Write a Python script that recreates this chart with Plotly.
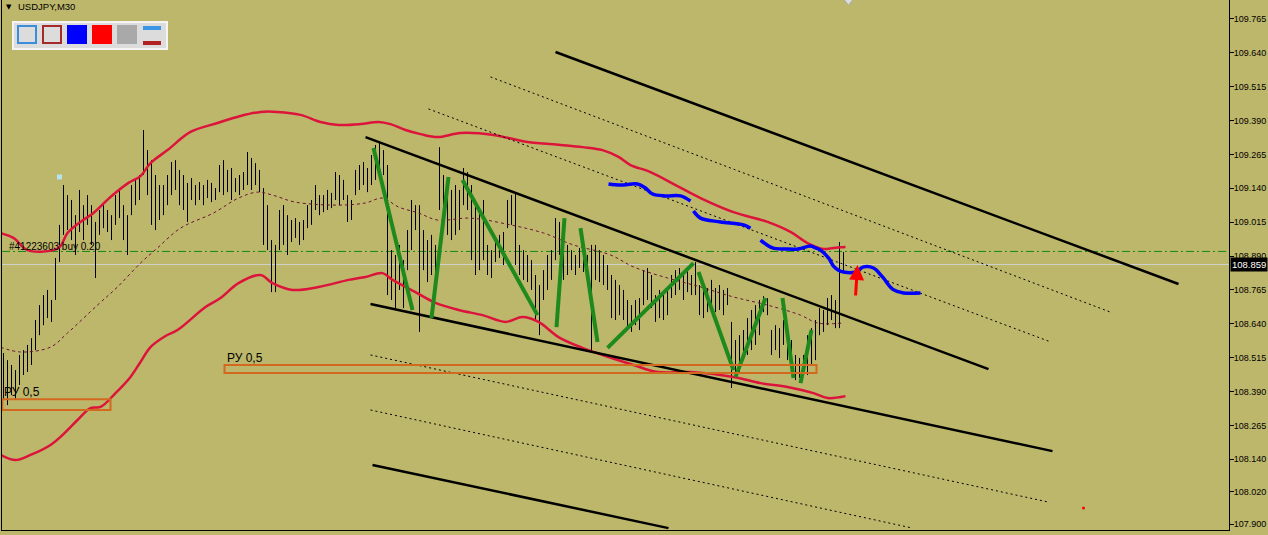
import plotly.graph_objects as go

# ---------------- data (prices) ----------------
bar_high = [108.532,108.506,108.488,108.469,108.525,108.543,108.562,108.587,108.654,108.709,
            108.746,108.765,108.728,108.883,109.005,109.152,109.115,109.097,109.041,109.134,
            109.078,109.115,109.078,109.016,109.060,109.078,109.060,109.041,109.115,109.134,
            109.078,109.041,109.152,109.178,109.189,109.355,109.281,109.244,109.189,109.152,
            109.152,109.189,109.237,109.244,109.208,109.189,109.160,109.178,109.152,109.163,
            109.152,109.171,109.160,109.141,109.226,109.244,109.208,109.215,109.178,109.189,
            109.200,109.274,109.252,109.233,109.208,109.141,109.078,108.949,108.931,109.060,
            109.078,109.041,109.023,109.030,109.016,109.023,109.078,109.097,109.152,109.115,
            109.115,109.134,109.123,109.200,109.189,109.171,109.115,109.097,109.208,109.226,
            109.237,109.215,109.263,109.300,109.311,109.281,109.226,108.912,108.894,108.931,
            108.875,108.986,109.097,109.078,109.078,108.986,108.949,108.968,108.931,109.292,
            109.189,109.171,109.134,109.152,109.134,109.215,109.200,109.152,109.097,109.060,
            109.097,108.931,108.912,108.949,108.968,108.979,109.097,109.115,109.123,108.931,
            108.912,108.894,108.875,108.820,108.783,108.838,108.894,108.912,109.030,109.016,
            108.949,108.931,108.912,108.894,108.920,108.905,108.894,108.931,108.931,108.912,
            108.894,108.857,108.820,108.802,108.783,108.765,108.728,108.709,108.728,108.735,
            108.838,108.846,108.820,108.746,108.765,108.757,108.772,108.820,108.838,108.846,
            108.831,108.846,108.820,108.868,108.783,108.765,108.772,108.802,108.772,108.783,
            108.765,108.772,108.647,108.580,108.598,108.617,108.661,108.691,108.709,108.728,
            108.742,108.735,108.617,108.635,108.624,108.654,108.617,108.580,108.525,108.514,
            108.525,108.598,108.624,108.654,108.698,108.691,108.735,108.746,108.728,108.942,
            108.905]
bar_low = [108.359,108.340,108.377,108.359,108.414,108.451,108.462,108.488,108.543,108.598,
           108.635,108.661,108.647,108.728,108.868,108.968,108.986,108.949,108.894,108.979,
           108.949,109.005,108.931,108.809,108.968,108.993,108.979,108.949,109.005,109.030,
           108.949,108.894,109.041,109.078,109.097,109.189,109.115,109.005,108.986,109.023,
           109.041,109.078,109.115,109.134,109.078,109.060,109.016,109.097,109.078,109.097,
           109.078,109.104,109.089,109.097,109.126,109.115,109.126,109.097,109.126,109.115,
           109.134,109.152,109.134,109.152,109.126,108.931,108.912,108.757,108.757,108.912,
           108.931,108.894,108.942,108.957,108.931,108.949,108.993,109.005,109.060,109.041,
           109.052,109.060,109.067,109.097,109.078,109.097,109.016,109.023,109.115,109.134,
           109.152,109.126,109.152,109.171,109.208,109.189,108.746,108.728,108.691,108.765,
           108.698,108.838,108.912,108.986,108.610,108.838,108.794,108.820,108.783,109.060,
           108.986,108.968,108.949,108.968,108.986,109.078,109.060,108.875,108.820,108.838,
           108.875,108.820,108.809,108.868,108.883,108.857,108.993,109.005,108.857,108.820,
           108.802,108.794,108.765,108.654,108.598,108.728,108.765,108.802,108.875,108.894,
           108.802,108.820,108.838,108.820,108.846,108.831,108.838,108.536,108.802,108.794,
           108.783,108.765,108.661,108.654,108.672,108.654,108.617,108.610,108.635,108.617,
           108.709,108.728,108.698,108.647,108.661,108.654,108.672,108.735,108.746,108.765,
           108.728,108.757,108.746,108.746,108.672,108.661,108.683,108.691,108.683,108.691,
           108.672,108.709,108.403,108.451,108.462,108.506,108.525,108.543,108.562,108.598,
           108.683,108.672,108.525,108.543,108.514,108.562,108.506,108.488,108.432,108.440,
           108.451,108.451,108.488,108.506,108.598,108.610,108.635,108.654,108.624,108.624,
           108.831]

bb_upper_x = [-0.75,2.5,6,12.5,14.25,16,19.25,22.5,26.75,31.25,34.25,36.75,41,46.75,53.5,59.25,
              64.25,68.5,74.25,79.25,83.75,89.25,93.75,96.75,100.5,104.25,108.5,114.25,122.5,
              131,139.25,144.75,149.75,153.75,156.75,161.75,168,174.25,182.5,191,196.75,201,
              205,207.5,210.5]
bb_upper_y = [108.975,108.957,108.912,108.912,108.927,108.975,109.016,109.049,109.108,109.160,
              109.185,109.233,109.281,109.348,109.381,109.407,109.422,109.422,109.411,109.385,
              109.374,109.377,109.385,109.377,109.355,109.340,109.329,109.344,109.337,109.311,
              109.300,109.292,109.281,109.256,109.226,109.200,109.152,109.104,109.052,109.016,
              108.979,108.938,108.916,108.920,108.923]
bb_lower_x = [-0.75,3,6.75,11.75,15.5,18.5,21.75,24.25,28,31.75,34.25,36.75,40.5,43.5,50.5,
              54.25,58.75,64.25,67.25,72.25,78.75,86.25,90.5,94.75,97.25,103,108,113.75,119.75,
              125.5,129.75,133.75,138.75,144.75,149.75,157.5,163.5,171.75,182.5,189.25,196,
              202.5,206,210.5]
bb_lower_y = [108.156,108.137,108.156,108.193,108.240,108.285,108.329,108.333,108.384,108.444,
              108.499,108.554,108.595,108.617,108.702,108.735,108.790,108.820,108.790,108.765,
              108.776,108.802,108.813,108.827,108.802,108.757,108.717,108.691,108.672,108.647,
              108.665,108.647,108.591,108.551,108.525,108.488,108.462,108.462,108.444,108.421,
              108.407,108.384,108.366,108.373]
bb_mid_x = [-0.75,4.25,11.75,16,23.5,28.5,34.25,38.5,44.25,52.5,58.75,63.5,67.25,73,83.75,90.5,
            94.75,98.75,103.75,108.5,116.75,126.75,135,142.5,151.75,157.5,166,174.25,182.5,191,
            199.25,203.5,210]
bb_mid_y = [108.554,108.536,108.554,108.606,108.709,108.776,108.864,108.920,108.993,109.049,
            109.104,109.126,109.115,109.089,109.078,109.086,109.104,109.071,109.049,109.023,
            109.030,109.005,108.975,108.931,108.894,108.850,108.809,108.776,108.739,108.709,
            108.672,108.643,108.643]

# channel trend lines (solid) and dotted parallels: start / end (bar index, price)
trend_x0 = [90.5, 91.75, 138, 92.25]
trend_y0 = [109.329, 108.713, 109.643, 108.119]
trend_x1 = [246.25, 262.25, 293.75, 166.25]
trend_y1 = [108.473, 108.170, 108.787, 107.886]
dot_x0 = [121.75, 106.25, 91.75, 91.75]
dot_y0 = [109.551, 109.433, 108.525, 108.322]
dot_x1 = [276.75, 261.25, 261.25, 227.25]
dot_y1 = [108.683, 108.576, 107.982, 107.886]

# green hand-drawn swing lines
green_x0 = [92.5, 107, 114.75, 138.25, 144.25, 151, 173.75, 183, 194.75, 199.25]
green_y0 = [109.289, 108.661, 109.171, 108.628, 108.993, 108.551, 108.831, 108.444, 108.735, 108.421]
green_x1 = [102.25, 111.25, 133.5, 140.25, 148.5, 172.5, 182.5, 190.5, 197.5, 202]
green_y1 = [108.691, 109.182, 108.672, 109.030, 108.573, 108.864, 108.469, 108.735, 108.440, 108.617]

# blue line (three pieces)
blue1_x = [151.25, 154.25, 158.5, 160.5, 162.25, 165.5, 169.25, 171.75]
blue1_y = [109.156, 109.152, 109.156, 109.141, 109.119, 109.112, 109.112, 109.093]
blue2_x = [172.5, 174.25, 179.25, 185, 186.75]
blue2_y = [109.056, 109.030, 109.016, 109.005, 108.993]
blue3_x = [189.25, 192.25, 195.5, 198.75, 201.75, 203, 204.25, 206.25, 207.5, 208.75, 210,
           213, 215, 217.5, 219.75, 222.25, 225, 229.25]
blue3_y = [108.949, 108.920, 108.916, 108.916, 108.927, 108.920, 108.912, 108.883, 108.853,
           108.838, 108.831, 108.831, 108.850, 108.846, 108.813, 108.768, 108.754, 108.754]

# orange zones "РУ 0,5"
zone_x0 = [-0.3, 55.25]
zone_x1 = [26.75, 203.25]
zone_y0 = [108.322, 108.458]
zone_y1 = [108.362, 108.488]
zone_label = ["РУ 0,5", "РУ 0,5"]

order_price = 108.907
order_label = "#41223603 buy 0.20"
bid_price = 108.859
arrow_tail = (213.0, 108.739)
arrow_head = (213.5, 108.857)

tick_vals = [109.765, 109.640, 109.515, 109.390, 109.265, 109.140, 109.015, 108.890,
             108.765, 108.640, 108.515, 108.390, 108.265, 108.140, 108.020, 107.900]

# ---------------- figure ----------------
BG = "#BDB76B"
FONT = "Liberation Sans"
W, H = 1268, 535
ML, MR, MT, MB = 2, 39, 0, 5
PW, PH = W - ML - MR, H - MT - MB


def pxx(px):
    return (px - ML) / PW


def pxy(py):
    return 1 - (py - MT) / PH


fig = go.Figure()

# bars (high-low)
bx, by = [], []
for i, (h, l) in enumerate(zip(bar_high, bar_low)):
    bx += [i, i, None]
    by += [l, h, None]
fig.add_trace(go.Scatter(x=bx, y=by, mode="lines", line=dict(color="black", width=1),
                         hoverinfo="skip"))

# Bollinger
fig.add_trace(go.Scatter(x=bb_mid_x, y=bb_mid_y, mode="lines",
                         line=dict(color="#6a1238", width=1, dash="3px,3px", shape="spline"),
                         hoverinfo="skip"))
for xs, ys in [(bb_upper_x, bb_upper_y), (bb_lower_x, bb_lower_y)]:
    fig.add_trace(go.Scatter(x=xs, y=ys, mode="lines",
                             line=dict(color="#DC143C", width=2.5, shape="spline"),
                             hoverinfo="skip"))

# orange zones
for x0, x1, y0, y1, lab in zip(zone_x0, zone_x1, zone_y0, zone_y1, zone_label):
    fig.add_shape(type="rect", x0=x0, x1=x1, y0=y0, y1=y1, xref="x", yref="y",
                  line=dict(color="#D2691E", width=2), fillcolor="rgba(0,0,0,0)")
    fig.add_annotation(x=x0, y=y1, xref="x", yref="y", text=lab, showarrow=False,
                       xanchor="left", yanchor="bottom", yshift=-2,
                       font=dict(family=FONT, size=12, color="black"))

# dotted lines
dx, dy = [], []
for a, b, c, d in zip(dot_x0, dot_y0, dot_x1, dot_y1):
    dx += [a, c, None]
    dy += [b, d, None]
fig.add_trace(go.Scatter(x=dx, y=dy, mode="lines",
                         line=dict(color="black", width=1, dash="2px,3px"), hoverinfo="skip"))

# trend lines
tx, ty = [], []
for a, b, c, d in zip(trend_x0, trend_y0, trend_x1, trend_y1):
    tx += [a, c, None]
    ty += [b, d, None]
fig.add_trace(go.Scatter(x=tx, y=ty, mode="lines", line=dict(color="black", width=2.5),
                         hoverinfo="skip"))

# green swings
gx, gy = [], []
for a, b, c, d in zip(green_x0, green_y0, green_x1, green_y1):
    gx += [a, c, None]
    gy += [b, d, None]
fig.add_trace(go.Scatter(x=gx, y=gy, mode="lines", line=dict(color="#1E8A1E", width=4),
                         hoverinfo="skip"))

# blue line
for xs, ys in [(blue1_x, blue1_y), (blue2_x, blue2_y), (blue3_x, blue3_y)]:
    fig.add_trace(go.Scatter(x=xs, y=ys, mode="lines",
                             line=dict(color="#0000FF", width=3.5, shape="spline"),
                             hoverinfo="skip"))

# small markers
fig.add_trace(go.Scatter(x=[14], y=[109.182], mode="markers",
                         marker=dict(symbol="square", size=5, color="#B8E2F2"), hoverinfo="skip"))
fig.add_trace(go.Scatter(x=[270], y=[107.960], mode="markers",
                         marker=dict(size=3, color="#FF0000"), hoverinfo="skip"))
fig.add_trace(go.Scatter(x=[211.25], y=[109.830], mode="markers",
                         marker=dict(symbol="triangle-down", size=8, color="#DCDCDC",
                                     line=dict(color="#AAAAAA", width=1)), hoverinfo="skip"))

# red arrow
fig.add_annotation(x=arrow_head[0], y=arrow_head[1], ax=arrow_tail[0], ay=arrow_tail[1],
                   xref="x", yref="y", axref="x", ayref="y", text="", showarrow=True,
                   arrowhead=2, arrowsize=1, arrowwidth=3, arrowcolor="#FF0000")

# horizontal levels
fig.add_shape(type="line", xref="paper", yref="y", x0=0, x1=1, y0=bid_price, y1=bid_price,
              line=dict(color="#D0D0D0", width=1), layer="below")
fig.add_shape(type="line", xref="paper", yref="y", x0=0, x1=1, y0=order_price, y1=order_price,
              line=dict(color="#128A12", width=1, dash="8px,3px,2px,3px"), layer="below")
fig.add_annotation(x=pxx(7), y=order_price, xref="paper", yref="y", text=order_label,
                   showarrow=False, xanchor="left", yanchor="bottom", yshift=-3,
                   font=dict(family=FONT, size=10, color="black"))
fig.add_annotation(x=1, y=bid_price, xref="paper", yref="y", text=f"{bid_price:.3f}",
                   showarrow=False, xanchor="left", yanchor="middle", xshift=1,
                   bgcolor="black", borderpad=1,
                   font=dict(family=FONT, size=9.5, color="white"))

# title
fig.add_annotation(x=pxx(4), y=pxy(7), xref="paper", yref="paper", text="▼",
                   showarrow=False, xanchor="left", yanchor="middle",
                   font=dict(family="DejaVu Sans", size=7, color="black"))
fig.add_annotation(x=pxx(16), y=pxy(7), xref="paper", yref="paper", text="USDJPY,M30",
                   showarrow=False, xanchor="left", yanchor="middle",
                   font=dict(family=FONT, size=9.5, color="black"))

# toolbar-like colour panel
fig.add_shape(type="rect", xref="paper", yref="paper", x0=pxx(13), x1=pxx(167),
              y0=pxy(49), y1=pxy(22), fillcolor="#DCDCDC", line=dict(color="#F4F4F4", width=2))
panel = [(18, 36, "#DCDCDC", "#3C8CDC"), (43, 61, "#DCDCDC", "#A52A2A"),
         (68, 86, "#0000FF", "#0000FF"), (93, 111, "#FF0000", "#FF0000"),
         (118, 136, "#A9A9A9", "#A9A9A9")]
for x0, x1, fc, lc in panel:
    fig.add_shape(type="rect", xref="paper", yref="paper", x0=pxx(x0), x1=pxx(x1),
                  y0=pxy(43), y1=pxy(26), fillcolor=fc, line=dict(color=lc, width=2))
fig.add_shape(type="rect", xref="paper", yref="paper", x0=pxx(143), x1=pxx(161),
              y0=pxy(30), y1=pxy(26), fillcolor="#3C96E6", line=dict(width=0))
fig.add_shape(type="rect", xref="paper", yref="paper", x0=pxx(143), x1=pxx(161),
              y0=pxy(45), y1=pxy(41), fillcolor="#B22222", line=dict(width=0))

fig.update_layout(
    width=W, height=H,
    margin=dict(l=ML, r=MR, t=MT, b=MB, pad=0, autoexpand=False),
    paper_bgcolor=BG, plot_bgcolor=BG,
    showlegend=False,
    xaxis=dict(range=[-0.375, 306.375], showgrid=False, zeroline=False,
               showticklabels=False, ticks="", showline=True, linecolor="black",
               linewidth=1, fixedrange=True),
    yaxis=dict(range=[107.879, 109.835], side="right", showgrid=False, zeroline=False,
               tickvals=tick_vals, ticktext=[f"{v:.3f}" for v in tick_vals],
               ticks="outside", ticklen=4, tickcolor="black", showline=True,
               linecolor="black", linewidth=1, mirror=True, ticklabelstandoff=-2,
               tickfont=dict(family=FONT, size=9, color="black"), fixedrange=True),
)

fig.write_html("out.html", config={"displayModeBar": False},
               post_script="document.body.style.margin='0';"
                           "document.body.style.overflow='hidden';"
                           "document.body.style.background='" + BG + "';")
